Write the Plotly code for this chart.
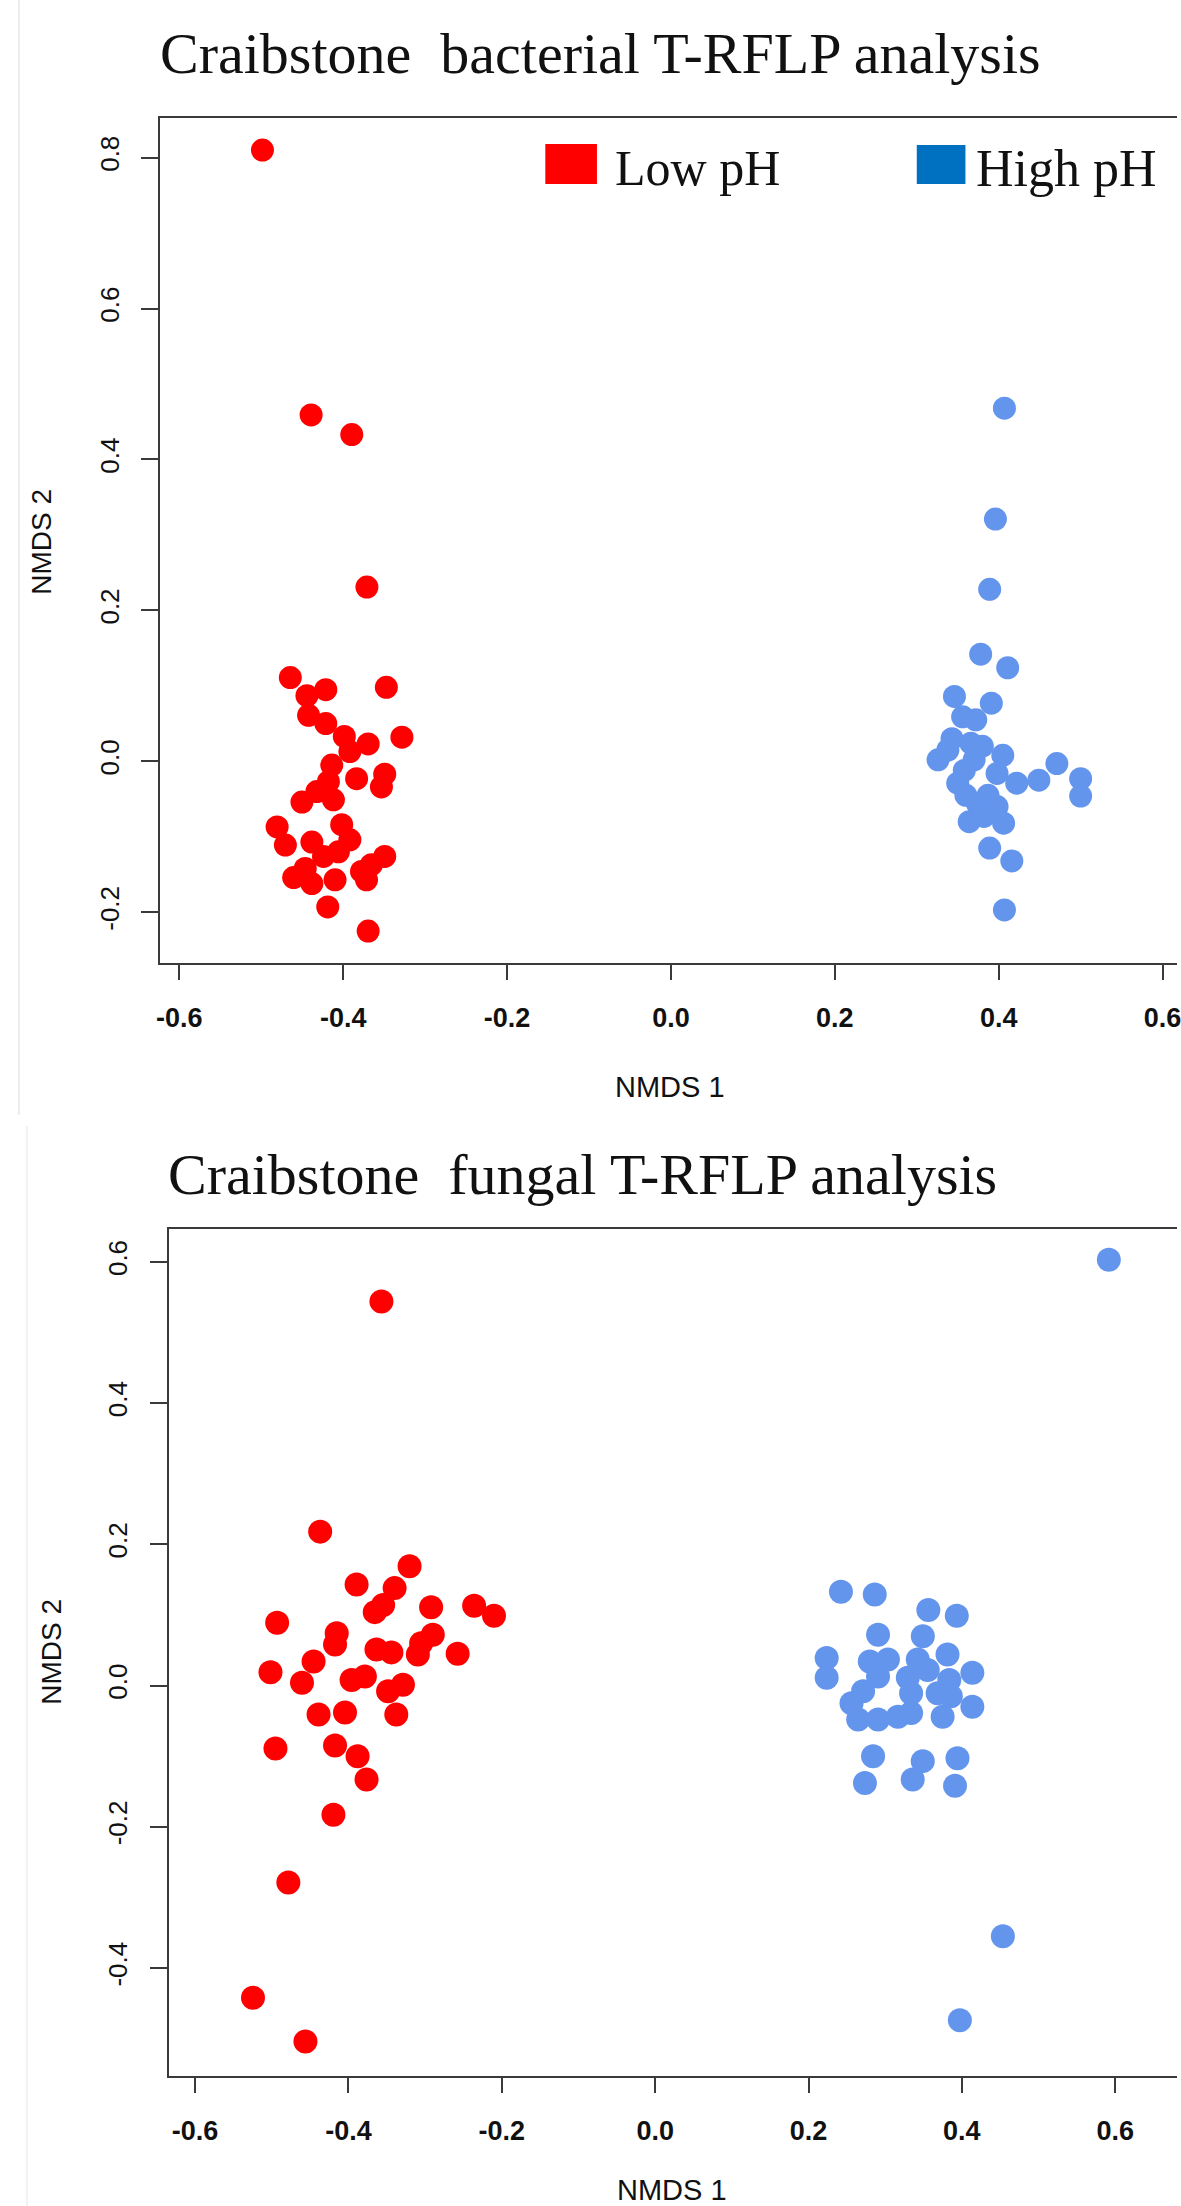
import plotly.graph_objects as go

# ---------------- data ----------------
bact_low_x = [-0.4985, -0.4391, -0.3895, -0.3710,
              -0.4645, -0.4212, -0.3473, -0.4442, -0.4422, -0.4212, -0.3986, -0.3695,
              -0.3283, -0.3918, -0.4139, -0.3836, -0.3493, -0.3533, -0.4180, -0.4321,
              -0.4503, -0.4119, -0.4806, -0.4018, -0.4705, -0.4382, -0.3918, -0.4058,
              -0.4240, -0.3493, -0.4463, -0.3655, -0.4604, -0.4382, -0.4099, -0.3776,
              -0.3715, -0.4188, -0.3695]
bact_low_y = [0.810, 0.459, 0.433, 0.231,
              0.111, 0.095, 0.098, 0.087, 0.061, 0.050, 0.033, 0.023,
              0.032, 0.013, -0.005, -0.023, -0.017, -0.034, -0.027, -0.040,
              -0.054, -0.051, -0.087, -0.084, -0.111, -0.107, -0.104, -0.120,
              -0.126, -0.126, -0.142, -0.137, -0.154, -0.162, -0.157, -0.146,
              -0.157, -0.193, -0.225]

bact_high_x = [0.407, 0.396, 0.389, 0.378, 0.411, 0.346, 0.391, 0.356, 0.372,
               0.338, 0.326, 0.366, 0.370, 0.350, 0.358, 0.343, 0.380, 0.405,
               0.398, 0.422, 0.449, 0.471, 0.500, 0.500, 0.374, 0.398, 0.364,
               0.406, 0.382, 0.389, 0.416, 0.407, 0.360, 0.387]
bact_high_y = [0.468, 0.321, 0.228, 0.142, 0.124, 0.086, 0.077, 0.059, 0.055,
               0.015, 0.002, 0.024, 0.002, -0.029, -0.012, 0.030, 0.020, 0.008,
               -0.016, -0.029, -0.025, -0.003, -0.023, -0.046, -0.056, -0.060, -0.080,
               -0.082, -0.073, -0.115, -0.132, -0.197, -0.045, -0.045]

fung_low_x = [-0.357, -0.4369, -0.3203, -0.3894, -0.3398, -0.3548, -0.3657, -0.2922,
              -0.2361, -0.2102, -0.4930, -0.4153, -0.4175, -0.2900, -0.3052, -0.3095,
              -0.3635, -0.3440, -0.2576, -0.4455, -0.5017, -0.4606, -0.3959, -0.3786,
              -0.3483, -0.3289, -0.4390, -0.4045, -0.3376, -0.4952, -0.4175, -0.3881,
              -0.3764, -0.4196, -0.4784, -0.5245, -0.4561]
fung_low_y = [0.544, 0.218, 0.169, 0.143, 0.138, 0.114, 0.104, 0.111,
              0.113, 0.099, 0.089, 0.074, 0.058, 0.072, 0.060, 0.044,
              0.051, 0.047, 0.045, 0.034, 0.019, 0.004, 0.008, 0.013,
              -0.008, 0.001, -0.041, -0.038, -0.041, -0.089, -0.085, -0.100,
              -0.133, -0.183, -0.279, -0.442, -0.504]

fung_high_x = [0.5917, 0.2423, 0.2864, 0.3563, 0.3934, 0.2907, 0.3491, 0.2237, 0.2237,
               0.2799, 0.3036, 0.3813, 0.4137, 0.3425, 0.3555, 0.3295, 0.3836, 0.2907,
               0.2712, 0.2561, 0.2648, 0.2907, 0.3166, 0.3338, 0.3338, 0.3684, 0.3856,
               0.4137, 0.3749, 0.2842, 0.3490, 0.3943, 0.2736, 0.3359, 0.3911,
               0.4535, 0.3974]
fung_high_y = [0.603, 0.133, 0.129, 0.107, 0.099, 0.072, 0.070, 0.039, 0.011,
               0.034, 0.037, 0.044, 0.018, 0.037, 0.022, 0.011, 0.008, 0.013,
               -0.008, -0.025, -0.048, -0.048, -0.044, -0.039, -0.011, -0.011, -0.015,
               -0.030, -0.044, -0.100, -0.107, -0.103, -0.138, -0.133, -0.142,
               -0.355, -0.474]

x_tickvals = [-0.6, -0.4, -0.2, 0.0, 0.2, 0.4, 0.6]
x_ticktext = ["-0.6", "-0.4", "-0.2", "0.0", "0.2", "0.4", "0.6"]
bact_y_tickvals = [-0.2, 0.0, 0.2, 0.4, 0.6, 0.8]
bact_y_ticktext = ["-0.2", "0.0", "0.2", "0.4", "0.6", "0.8"]
fung_y_tickvals = [-0.4, -0.2, 0.0, 0.2, 0.4, 0.6]
fung_y_ticktext = ["-0.4", "-0.2", "0.0", "0.2", "0.4", "0.6"]

series_names = ["Low pH", "High pH"]
titles = ["Craibstone\u00a0 bacterial T-RFLP analysis", "Craibstone\u00a0 fungal T-RFLP analysis"]

# ---------------- layout helpers ----------------
W, H = 1181, 2206
def fx(p):
    return p / W
def fy(p):
    return 1 - p / H

RED = "#FF0000"
BLUE = "#6495ED"
LEG_BLUE = "#0070C0"
AX = "#3a3a3a"

fig = go.Figure()
fig.add_trace(go.Scatter(x=bact_low_x, y=bact_low_y, mode="markers", name=series_names[0],
                         marker=dict(color=RED, size=23, line=dict(width=0)),
                         xaxis="x", yaxis="y", showlegend=False))
fig.add_trace(go.Scatter(x=bact_high_x, y=bact_high_y, mode="markers", name=series_names[1],
                         marker=dict(color=BLUE, size=23, line=dict(width=0)),
                         xaxis="x", yaxis="y", showlegend=False))
fig.add_trace(go.Scatter(x=fung_low_x, y=fung_low_y, mode="markers", name=series_names[0],
                         marker=dict(color=RED, size=24, line=dict(width=0)),
                         xaxis="x2", yaxis="y2", showlegend=False))
fig.add_trace(go.Scatter(x=fung_high_x, y=fung_high_y, mode="markers", name=series_names[1],
                         marker=dict(color=BLUE, size=24, line=dict(width=0)),
                         xaxis="x2", yaxis="y2", showlegend=False))

xtickfont = dict(family="Liberation Sans, Arial", size=27, color="#111", weight="bold")
ytickfont = dict(family="Liberation Sans, Arial", size=26, color="#111")
common_x = dict(ticks="outside", ticklen=15, tickwidth=2, tickcolor=AX, showline=True,
                linecolor=AX, linewidth=2, mirror=True, showgrid=False, zeroline=False,
                tickfont=xtickfont, tickmode="array", tickvals=x_tickvals, ticktext=x_ticktext,
                ticklabelstandoff=15, ticklabeloverflow="allow")
common_y = dict(ticks="outside", ticklen=17, tickwidth=2, tickcolor=AX, showline=True,
                linecolor=AX, linewidth=2, mirror=False, showgrid=False, zeroline=False,
                tickfont=ytickfont, tickmode="array", tickangle=-90, ticklabelstandoff=12,
                ticklabeloverflow="allow")

fig.update_layout(
    width=W, height=H, margin=dict(l=0, r=0, t=0, b=0),
    paper_bgcolor="white", plot_bgcolor="white", showlegend=False,
    xaxis=dict(domain=[fx(157), 1], range=[-0.6236, 0.6176], anchor="y", **common_x),
    yaxis=dict(domain=[fy(962.8), fy(118.4)], range=[-0.267, 0.852], anchor="x",
               tickvals=bact_y_tickvals, ticktext=bact_y_ticktext, **common_y),
    xaxis2=dict(domain=[fx(165.7), 1], range=[-0.6346, 0.6806], anchor="y2", **common_x),
    yaxis2=dict(domain=[fy(2075.5), fy(1229.4)], range=[-0.5522, 0.646], anchor="x2",
                tickvals=fung_y_tickvals, ticktext=fung_y_ticktext, **common_y),
)

serif = "Liberation Serif, Times New Roman, serif"
sans = "Liberation Sans, Arial, sans-serif"
ann = []
# titles
ann.append(dict(text=titles[0], x=fx(155), y=fy(54), xref="paper", yref="paper",
                xanchor="left", yanchor="middle", showarrow=False,
                font=dict(family=serif, size=58, color="#111")))
ann.append(dict(text=titles[1], x=fx(163), y=fy(1174), xref="paper", yref="paper",
                xanchor="left", yanchor="middle", showarrow=False,
                font=dict(family=serif, size=58, color="#111")))
# axis titles
for (xc, yc) in [(671, 1087), (673, 2190)]:
    ann.append(dict(text="NMDS 1", x=fx(xc), y=fy(yc), xref="paper", yref="paper",
                    xanchor="center", yanchor="middle", showarrow=False,
                    font=dict(family=sans, size=29, color="#111")))
for (xc, yc) in [(37, 542), (47, 1652)]:
    ann.append(dict(text="NMDS 2", x=fx(xc), y=fy(yc), xref="paper", yref="paper",
                    xanchor="center", yanchor="middle", showarrow=False, textangle=-90,
                    font=dict(family=sans, size=28, color="#111")))
# legend labels
ann.append(dict(text=series_names[0], x=fx(613), y=fy(168), xref="paper", yref="paper",
                xanchor="left", yanchor="middle", showarrow=False,
                font=dict(family=serif, size=50, color="#111")))
ann.append(dict(text=series_names[1], x=fx(977), y=fy(168), xref="paper", yref="paper",
                xanchor="left", yanchor="middle", showarrow=False,
                font=dict(family=serif, size=52, color="#111")))

shapes = []
shapes.append(dict(type="rect", xref="paper", yref="paper", x0=fx(545), x1=fx(597),
                   y0=fy(184), y1=fy(144), fillcolor=RED, line=dict(width=0)))
shapes.append(dict(type="rect", xref="paper", yref="paper", x0=fx(919), x1=fx(968),
                   y0=fy(184), y1=fy(145), fillcolor=LEG_BLUE, line=dict(width=0)))
# faint image border lines
shapes.append(dict(type="line", xref="paper", yref="paper", x0=fx(15), x1=fx(15),
                   y0=fy(0), y1=fy(1115), line=dict(color="#ececec", width=2)))
shapes.append(dict(type="line", xref="paper", yref="paper", x0=fx(23), x1=fx(23),
                   y0=fy(1126), y1=fy(2206), line=dict(color="#f2f2f2", width=2)))

fig.update_layout(annotations=ann, shapes=shapes)
fig.write_html("out.html")
